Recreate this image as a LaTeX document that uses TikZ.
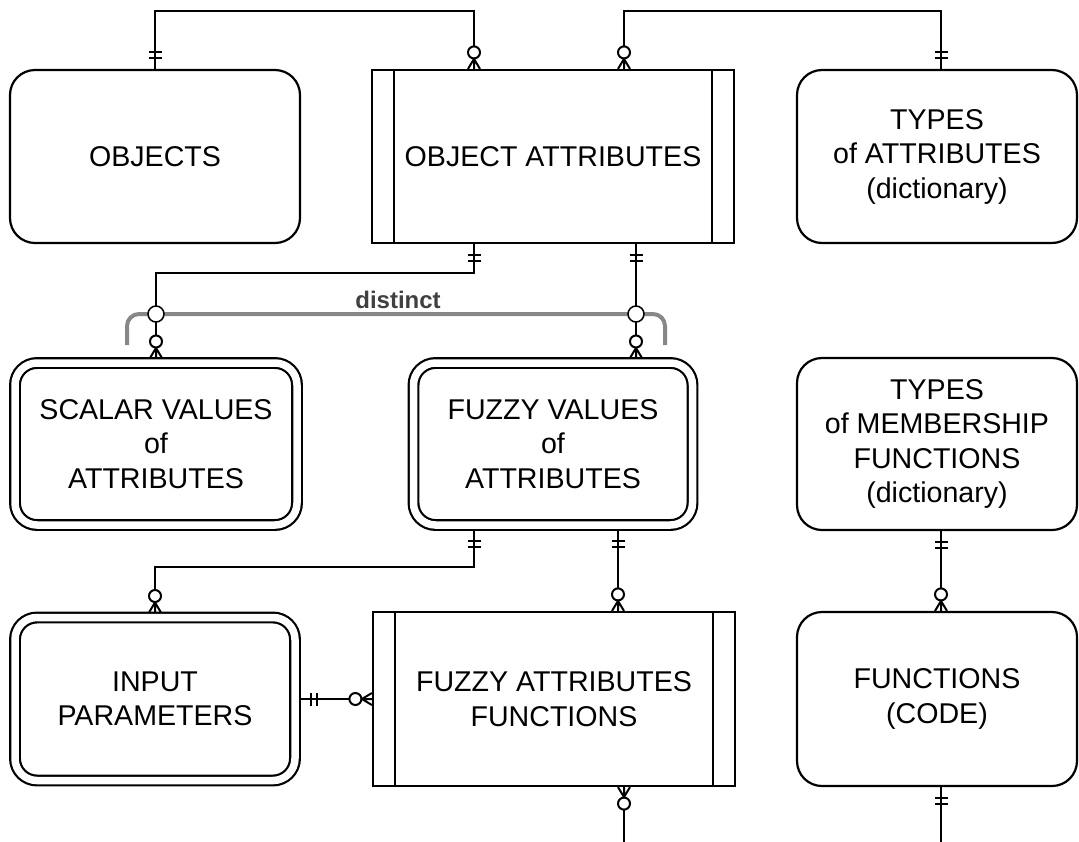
\documentclass[tikz,border=0pt]{standalone}
\usepackage{fontspec}
\setmainfont{Liberation Sans}
\begin{document}
\begin{tikzpicture}[x=1pt,y=-1pt,line width=2.2pt,
  ent/.style={draw,fill=white,rounded corners=25pt,align=center,inner sep=0pt,
    font=\fontsize{28.6}{34.5}\selectfont},
  dbl/.style={ent,double,double distance=7.5pt,rounded corners=22pt,outer sep=5pt},
  assoc/.style={draw,fill=white,align=center,inner sep=0pt,
    font=\fontsize{28.6}{34.5}\selectfont},
  one/.pic={\draw[line width=2pt] (11,-6.5) -- (11,6.5) (16.5,-6.5) -- (16.5,6.5);},
  zmany/.pic={\draw[line width=2pt] (0,-6) -- (10,0) -- (0,6) (0,0) -- (10,0);
              \draw[line width=2pt,fill=white] (16.5,0) circle (6);},
  distinctline/.style={draw=black!47,line width=4pt,rounded corners=12pt}
]
\useasboundingbox (0,0) rectangle (1079,841);

% entities
\node[ent,minimum width=290pt,minimum height=173pt] (obj) at (155,156.5) {OBJECTS};
\node[assoc,minimum width=362pt,minimum height=173pt] (oa) at (553,156.5) {OBJECT ATTRIBUTES};
\node[ent,minimum width=280pt,minimum height=173pt] (toa) at (937,156.5) {TYPES\\of ATTRIBUTES\\(dictionary)};
\node[dbl,minimum width=282pt,minimum height=162pt] (sva) at (156,444) {SCALAR VALUES\\of\\ATTRIBUTES};
\node[dbl,minimum width=279pt,minimum height=162pt] (fva) at (553,444) {FUZZY VALUES\\of\\ATTRIBUTES};
\node[ent,minimum width=280pt,minimum height=172pt] (tmf) at (937,444) {TYPES\\of MEMBERSHIP\\FUNCTIONS\\(dictionary)};
\node[dbl,minimum width=280pt,minimum height=163pt] (ip) at (155,699) {INPUT\\PARAMETERS};
\node[assoc,minimum width=362pt,minimum height=174pt] (faf) at (554,699) {FUZZY ATTRIBUTES\\FUNCTIONS};
\node[ent,minimum width=280pt,minimum height=174pt] (fun) at (937,699) {FUNCTIONS\\(CODE)};

% inner lines of associative entities
\draw ([xshift=23pt]oa.north west) -- ([xshift=23pt]oa.south west)
      ([xshift=-23pt]oa.north east) -- ([xshift=-23pt]oa.south east);
\draw ([xshift=23pt]faf.north west) -- ([xshift=23pt]faf.south west)
      ([xshift=-23pt]faf.north east) -- ([xshift=-23pt]faf.south east);

% connectors
\draw (obj.north) -- ++(0,-58) -| ([xshift=-79pt]oa.north);
\draw ([xshift=71pt]oa.north) -- ++(0,-58) -| ([xshift=4pt]toa.north);
\draw ([xshift=-79pt]oa.south) -- ++(0,29) -| (sva.north);
\draw ([xshift=83pt]oa.south) -- ([xshift=83pt]fva.north);
\draw ([xshift=-79pt]fva.south) -- ++(0,37) -| (ip.north);
\draw ([xshift=65pt]fva.south) -- ([xshift=64pt]faf.north);
\draw ([xshift=4pt]tmf.south) -- ([xshift=4pt]fun.north);
\draw (ip.east) -- (faf.west);
\coordinate (fafend) at ([xshift=70pt,yshift=-60pt]faf.south);
\coordinate (funend) at ([xshift=4pt,yshift=-60pt]fun.south);
\draw ([xshift=70pt]faf.south) -- (fafend);
\draw ([xshift=4pt]fun.south) -- (funend);

% cardinality marks
\pic[rotate=90] at (obj.north) {one};
\pic[rotate=90] at ([xshift=-79pt]oa.north) {zmany};
\pic[rotate=90] at ([xshift=71pt]oa.north) {zmany};
\pic[rotate=90] at ([xshift=4pt]toa.north) {one};
\pic[rotate=-90] at ([xshift=-79pt]oa.south) {one};
\pic[rotate=-90] at ([xshift=83pt]oa.south) {one};
\pic[rotate=90] at (sva.north) {zmany};
\pic[rotate=90] at ([xshift=83pt]fva.north) {zmany};
\pic[rotate=-90] at ([xshift=-79pt]fva.south) {one};
\pic[rotate=-90] at ([xshift=65pt]fva.south) {one};
\pic[rotate=90] at (ip.north) {zmany};
\pic[rotate=90] at ([xshift=64pt]faf.north) {zmany};
\pic[rotate=-90] at ([xshift=4pt]tmf.south) {one};
\pic[rotate=90] at ([xshift=4pt]fun.north) {zmany};
\pic[rotate=0] at (ip.east) {one};
\pic[rotate=180] at (faf.west) {zmany};
\pic[rotate=-90] at ([xshift=70pt]faf.south) {zmany};
\pic[rotate=-90] at ([xshift=4pt]fun.south) {one};

% distinct constraint
\coordinate (dl) at (127,345);
\coordinate (dr) at (665,345);
\draw[distinctline] (dl) -- (127,314) -- (665,314) -- (dr);
\draw[line width=1.5pt,fill=white] (sva.north |- 0,314) circle (8);
\draw[line width=1.5pt,fill=white] ([xshift=83pt]fva.north |- 0,314) circle (8);
\node[font=\bfseries\fontsize{24}{28}\selectfont,text=black!75] (dtext) at (398,300) {distinct};
\end{tikzpicture}
\end{document}
